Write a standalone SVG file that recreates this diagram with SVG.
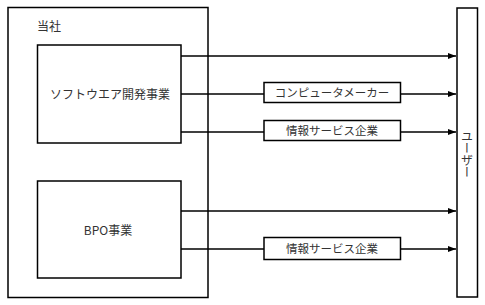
<svg xmlns="http://www.w3.org/2000/svg" width="485" height="305" viewBox="0 0 485 305">
<style>
.box{fill:#fff;stroke:#000;stroke-width:1.5}
.frame{fill:none;stroke:#000;stroke-width:1.5}
.t{font-family:"Noto Sans CJK JP","Noto Sans CJK SC",sans-serif;font-size:12px;fill:#333}
.lt{font-family:"Noto Sans CJK JP","Noto Sans CJK SC",sans-serif;font-size:11.5px;fill:#333}
.c{stroke:#000;stroke-width:1.5;fill:none;marker-end:url(#ah)}
</style>
<defs>
<marker id="ah" viewBox="0 0 8 6" refX="8" refY="3" markerWidth="8" markerHeight="6" markerUnits="userSpaceOnUse" orient="auto">
<path d="M0,0 L8,3 L0,6 Z" fill="#000"/>
</marker>
</defs>
<g id="company">
<rect class="frame" x="8" y="7.5" width="200" height="290"/>
<text class="t" x="37" y="31">当社</text>
</g>
<g id="user">
<rect class="box" x="457" y="8" width="20.5" height="289"/>
<text class="t" x="467" y="130" style="writing-mode:vertical-rl" font-size="11">ユーザー</text>
</g>
<g id="connectors">
<line class="c" x1="181" y1="56" x2="456" y2="56"/>
<line class="c" x1="181" y1="94" x2="456" y2="94"/>
<line class="c" x1="181" y1="132" x2="456" y2="132"/>
<line class="c" x1="181" y1="211" x2="456" y2="211"/>
<line class="c" x1="181" y1="249" x2="456" y2="249"/>
</g>
<g id="software">
<rect class="box" x="37.5" y="45" width="143.5" height="98"/>
<text class="t" x="110" y="99" text-anchor="middle">ソフトウエア開発事業</text>
</g>
<g id="bpo">
<rect class="box" x="37.5" y="181" width="143.5" height="97"/>
<text class="t" x="108" y="235" text-anchor="middle">BPO事業</text>
</g>
<g id="maker">
<rect class="box" x="264" y="82.5" width="136.5" height="20"/>
<text class="lt" x="332" y="96.5" text-anchor="middle">コンピュータメーカー</text>
</g>
<g id="service1">
<rect class="box" x="264" y="120.5" width="136.5" height="20"/>
<text class="lt" x="332" y="134.5" text-anchor="middle">情報サービス企業</text>
</g>
<g id="service2">
<rect class="box" x="264" y="237.5" width="136.5" height="22"/>
<text class="lt" x="332" y="252.5" text-anchor="middle">情報サービス企業</text>
</g>
</svg>
